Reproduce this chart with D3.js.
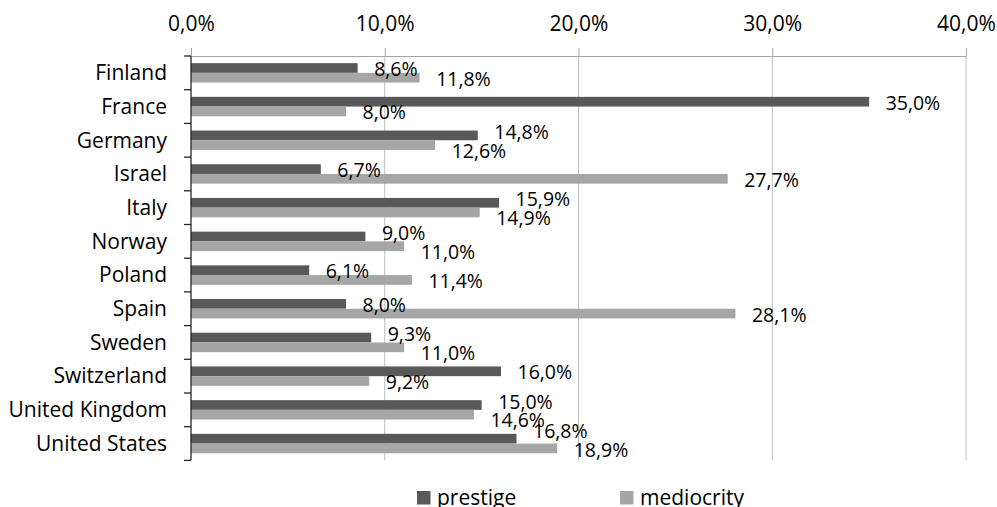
<!DOCTYPE html>
<html>
<head>
<meta charset="utf-8">
<script src="https://cdn.jsdelivr.net/npm/d3@7"></script>
<style>
  html, body { margin: 0; padding: 0; background: #fff; }
  svg { display: block; font-family: "Open Sans", sans-serif; }
</style>
</head>
<body>
<svg id="chart" width="997" height="507"></svg>
<script>
const categories = ["Finland", "France", "Germany", "Israel", "Italy", "Norway", "Poland", "Spain", "Sweden", "Switzerland", "United Kingdom", "United States"];
const prestige =   [8.6, 35.0, 14.8, 6.7, 15.9, 9.0, 6.1, 8.0, 9.3, 16.0, 15.0, 16.8];
const mediocrity = [11.8, 8.0, 12.6, 27.7, 14.9, 11.0, 11.4, 28.1, 11.0, 9.2, 14.6, 18.9];
const seriesNames = ["prestige", "mediocrity"];
const seriesColors = ["#595959", "#a6a6a6"];
const xTicks = [0, 10, 20, 30, 40];

(function () {
const fmt = v => v.toFixed(1).replace(".", ",") + "%";
const svg = d3.select("#chart");
const mLeft = 191, mRight = 966, mTop = 56, mBottom = 460.4;

const x = d3.scaleLinear().domain([0, 40]).range([mLeft, mRight]);
const pIn = 0.424;
const y = d3.scaleBand().domain(categories).range([mTop, mBottom]).paddingInner(pIn).paddingOuter(pIn / 2);
const ySub = d3.scaleBand().domain(seriesNames).range([0, y.bandwidth()]);

// gridlines
svg.append("g").selectAll("line").data(xTicks.slice(1)).join("line")
  .attr("x1", d => x(d)).attr("x2", d => x(d))
  .attr("y1", mTop).attr("y2", mBottom)
  .attr("stroke", "#bdbdbd").attr("stroke-width", 1);

// top axis
const xAxis = d3.axisTop(x).tickValues(xTicks).tickFormat(d => fmt(d)).tickSizeInner(8).tickSizeOuter(0).tickPadding(17);
const gx = svg.append("g").attr("transform", `translate(0,${mTop})`).call(xAxis);
gx.select(".domain").attr("stroke", "#a6a6a6");
gx.selectAll(".tick line").attr("stroke", "#a6a6a6");
gx.selectAll(".tick text").attr("font-size", 21).attr("fill", "#000").attr("font-family", "Open Sans, sans-serif");

// bars
const data = [];
categories.forEach((c, i) => {
  data.push({cat: c, s: "prestige", v: prestige[i], color: seriesColors[0]});
  data.push({cat: c, s: "mediocrity", v: mediocrity[i], color: seriesColors[1]});
});

svg.append("g").selectAll("rect").data(data).join("rect")
  .attr("x", x(0))
  .attr("y", d => y(d.cat) + ySub(d.s))
  .attr("width", d => x(d.v) - x(0))
  .attr("height", ySub.bandwidth())
  .attr("fill", d => d.color);

// data labels (outside end, with simple overlap resolution)
const lblG = svg.append("g");
const labels = lblG.selectAll("text").data(data).join("text")
  .attr("x", d => x(d.v) + 16.5)
  .attr("font-size", 19.5)
  .attr("fill", "#000")
  .text(d => fmt(d.v));
labels.each(function (d) {
  d.w = this.getComputedTextLength();
  d.lx = x(d.v) + 16.5;
  d.base = y(d.cat) + ySub(d.s) + ySub.bandwidth() / 2 + 8;
});
categories.forEach(c => {
  const p = data.find(d => d.cat === c && d.s === "prestige");
  const m = data.find(d => d.cat === c && d.s === "mediocrity");
  const overlapX = p.lx < m.lx + m.w && m.lx < p.lx + p.w;
  if (overlapX) {
    const mid = (p.base + m.base) / 2;
    p.base = mid - 9.25;
    m.base = mid + 9.25;
  }
  const limit = mBottom - 3.7;
  if (m.base > limit) {
    const sh = m.base - limit;
    p.base -= sh; m.base -= sh;
  }
});
labels.attr("y", d => d.base);

// left axis
const step = y.step();
const boundaries = d3.range(categories.length + 1).map(i => mTop + i * step);
const gy = svg.append("g");
gy.append("line").attr("x1", mLeft).attr("x2", mLeft).attr("y1", mTop).attr("y2", mBottom)
  .attr("stroke", "#262626").attr("stroke-width", 1.3);
gy.selectAll("line.tk").data(boundaries).join("line").attr("class", "tk")
  .attr("x1", mLeft - 7).attr("x2", mLeft).attr("y1", d => d).attr("y2", d => d)
  .attr("stroke", "#262626").attr("stroke-width", 1.3);
gy.selectAll("text").data(categories).join("text")
  .attr("x", mLeft - 24)
  .attr("y", d => y(d) + y.bandwidth() / 2 + 7.3)
  .attr("text-anchor", "end")
  .attr("font-size", 21)
  .attr("fill", "#000")
  .text(d => d);

// legend
const legendX = [417, 620];
const lg = svg.append("g");
seriesNames.forEach((s, i) => {
  lg.append("rect").attr("x", legendX[i]).attr("y", 491).attr("width", 13.5).attr("height", 13.5).attr("fill", seriesColors[i]);
  lg.append("text").attr("x", legendX[i] + 20).attr("y", 505).attr("font-size", 21).attr("fill", "#000").text(s);
});
})();
</script>
</body>
</html>
